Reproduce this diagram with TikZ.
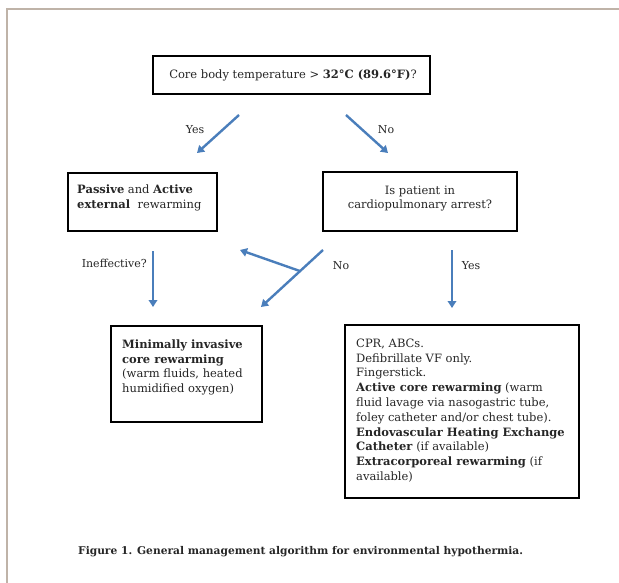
\documentclass[tikz,border=0pt]{standalone}
\usepackage{fontspec}
\setmainfont{DejaVu Serif}
\usetikzlibrary{arrows.meta,calc}
\definecolor{arrowblue}{HTML}{4A7EBB}
\definecolor{frametan}{HTML}{BFB3A8}
\definecolor{ink}{HTML}{262626}
\newcommand{\ts}{\rule{0pt}{11pt}}
\begin{document}
\begin{tikzpicture}[x=1pt,y=-1pt,
  box/.style={draw=black,line width=1.8pt,inner sep=0pt},
  txt/.style={font=\fontsize{11.5}{14.8}\selectfont,text=ink,inner sep=0pt},
  lbl/.style={font=\fontsize{11}{13}\selectfont,text=ink,inner sep=0pt},
  conn/.style={draw=arrowblue,line width=2.4pt,-{Triangle[length=7pt,width=8.5pt]}}]
\useasboundingbox (0,0) rectangle (619,583);
\fill[white] (0,0) rectangle (619,583);
\draw[frametan,line width=1.5pt] (7,583) -- (7,9) -- (619,9);

% boxes
\node[box,minimum width=277pt,minimum height=38pt] (q1) at (291.5,75) {};
\node[txt] (q1t) at (293,75) {Core body temperature > \textbf{32°C (89.6°F)}?};

\node[box,minimum width=149pt,minimum height=58pt] (pas) at (142.5,202) {};
\node[txt,align=left,anchor=north west] (past) at (77,182)
  {\ts\textbf{Passive} and \textbf{Active}\\\textbf{external}\ \ rewarming};

\node[box,minimum width=194pt,minimum height=59pt] (q2) at (420,201.5) {};
\node[txt,align=center,anchor=north] (q2t) at (420,183)
  {\ts Is patient in\\cardiopulmonary arrest?};

\node[box,minimum width=151pt,minimum height=96pt] (mir) at (186.5,374) {};
\node[txt,align=left,anchor=north west] (mirt) at (122,337)
  {\ts\textbf{Minimally invasive}\\\textbf{core rewarming}\\(warm fluids, heated\\humidified oxygen)};

\node[box,minimum width=234pt,minimum height=173pt] (cpr) at (462,411.5) {};
\node[txt,align=left,anchor=north west] (cprt) at (356,336)
  {\ts CPR, ABCs.\\Defibrillate VF only.\\Fingerstick.\\
   \textbf{Active core rewarming}\ (warm\\
   fluid lavage via nasogastric tube,\\
   foley catheter and/or chest tube).\\
   \textbf{Endovascular Heating Exchange}\\
   \textbf{Catheter} (if available)\\
   \textbf{Extracorporeal rewarming}\ (if\\
   available)};

% arrow end points
\coordinate (yS) at (239,115); \coordinate (yE) at (197,153);
\coordinate (nS) at (346,115); \coordinate (nE) at (388,153);
\coordinate (iS) at (153,251); \coordinate (iE) at (153,307);
\coordinate (n2S) at (323,250); \coordinate (n2E) at (261,307);
\coordinate (junc) at ($(n2S)!0.37!(n2E)$); \coordinate (n2B) at (240,250);
\coordinate (y2S) at (452,250); \coordinate (y2E) at (452,308);

\draw[conn] (yS) -- (yE);
\draw[conn] (nS) -- (nE);
\draw[conn] (iS) -- (iE);
\draw[conn] (n2S) -- (n2E);
\draw[conn] (junc) -- (n2B);
\draw[conn] (y2S) -- (y2E);

% labels
\node[lbl] (lyes) at (195,130) {Yes};
\node[lbl] (lno) at (386,130) {No};
\node[lbl,anchor=east] (lineff) at (147,263) {Ineffective?};
\node[lbl] (lno2) at (341,266) {No};
\node[lbl] (lyes2) at (471,266) {Yes};

% caption
\node[txt,font=\bfseries\fontsize{10.65}{12}\selectfont,anchor=west] (cap) at (78,552)
  {Figure 1. General management algorithm for environmental hypothermia.};
\end{tikzpicture}
\end{document}
